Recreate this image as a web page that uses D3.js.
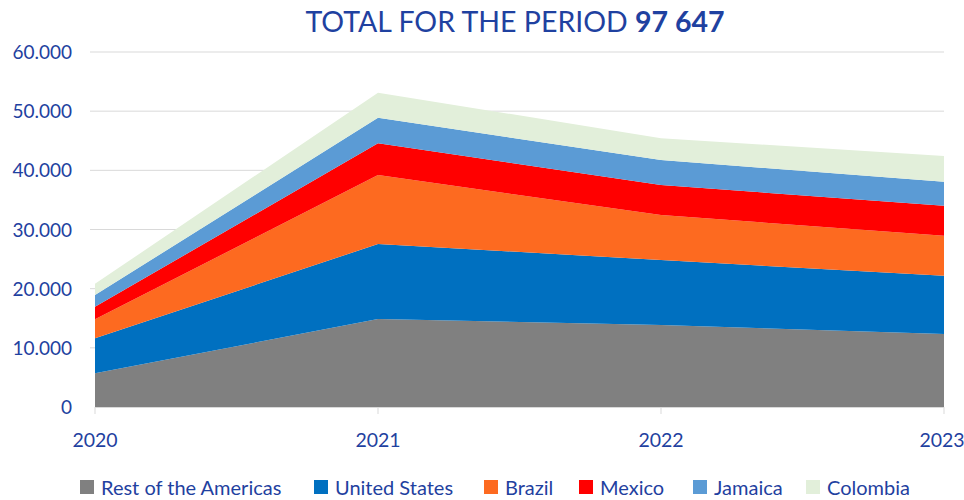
<!DOCTYPE html>
<html><head><meta charset="utf-8">
<script src="https://cdn.jsdelivr.net/npm/d3@7"></script>
<style>body{margin:0;background:#fff}svg{display:block}</style>
</head><body>
<svg id="c" width="964" height="500"></svg>
<script>
const years = ["2020","2021","2022","2023"];
const seriesNames = ["Rest of the Americas","United States","Brazil","Mexico","Jamaica","Colombia"];
const seriesColors = ["#808080","#0070c0","#fd6a20","#ff0000","#5b9bd5","#e2efda"];
const restOfAmericas = [5700, 14870, 13860, 12340];
const unitedStates   = [5900, 12680, 10980, 9850];
const brazil         = [3210, 11660, 7610, 6760];
const mexico         = [2130, 5360, 5070, 5070];
const jamaica        = [1980, 4320, 4220, 4060];
const colombia       = [1900, 4230, 3700, 4340];
const yTicks = [0,10000,20000,30000,40000,50000,60000];
const yTickLabels = ["0","10.000","20.000","30.000","40.000","50.000","60.000"];
const titleText = "TOTAL FOR THE PERIOD ";
const titleTotal = "97 647";

const textColor = "#1f41a0";
const font = "Lato, 'Open Sans', sans-serif";
const svg = d3.select("#c");
const x = d3.scalePoint().domain(years).range([95, 944]);
const y = d3.scaleLinear().domain([0, 60000]).range([407, 52]);

const allSeries = [restOfAmericas, unitedStates, brazil, mexico, jamaica, colombia];
const table = years.map((yr, i) => {
  const row = {year: yr};
  seriesNames.forEach((n, k) => row[n] = allSeries[k][i]);
  return row;
});
const stacked = d3.stack().keys(seriesNames)(table);

// gridlines
svg.append("g").selectAll("line").data(yTicks.slice(1)).join("line")
  .attr("x1", 90).attr("x2", 944)
  .attr("y1", d => y(d)).attr("y2", d => y(d))
  .attr("stroke", "#d9d9d9").attr("stroke-width", 1);

const area = d3.area().x(d => x(d.data.year)).y0(d => y(d[0])).y1(d => y(d[1]));
svg.append("g").selectAll("path").data(stacked).join("path")
  .attr("d", area).attr("fill", (d, i) => seriesColors[i]);

// x axis line and ticks
svg.append("line").attr("x1", 95).attr("x2", 944).attr("y1", y(0)+0.5).attr("y2", y(0)+0.5)
  .attr("stroke", "#d9d9d9");
svg.append("g").selectAll("line").data(years).join("line")
  .attr("x1", d => x(d)).attr("x2", d => x(d)).attr("y1", y(0)).attr("y2", y(0)+7)
  .attr("stroke", "#d9d9d9");

// y labels
svg.append("g").selectAll("text").data(yTicks).join("text")
  .attr("x", 72).attr("y", d => y(d) + 7)
  .attr("text-anchor", "end").attr("fill", textColor)
  .style("font-family", font).style("font-size", "19px")
  .text((d, i) => yTickLabels[i]);

// x labels
svg.append("g").selectAll("text").data(years).join("text")
  .attr("x", d => Math.min(x(d), 942)).attr("y", 447)
  .attr("text-anchor", "middle").attr("fill", textColor)
  .style("font-family", font).style("font-size", "19.5px")
  .text(d => d);

// title
const t = svg.append("text").attr("x", 515).attr("y", 32).attr("text-anchor", "middle")
  .attr("fill", textColor).style("font-family", font).style("font-size", "28.5px");
t.append("tspan").text(titleText);
t.append("tspan").attr("font-weight", "bold").text(titleTotal);

// legend
const legendX = [80, 314, 484, 579, 693, 806];
const lg = svg.append("g").selectAll("g").data(seriesNames).join("g")
  .attr("transform", (d, i) => `translate(${legendX[i]},480)`);
lg.append("rect").attr("width", 14).attr("height", 14).attr("fill", (d, i) => seriesColors[i]);
lg.append("text").attr("x", 21).attr("y", 14.5).attr("fill", textColor)
  .style("font-family", font).style("font-size", "20px").text(d => d);
</script>
</body></html>
